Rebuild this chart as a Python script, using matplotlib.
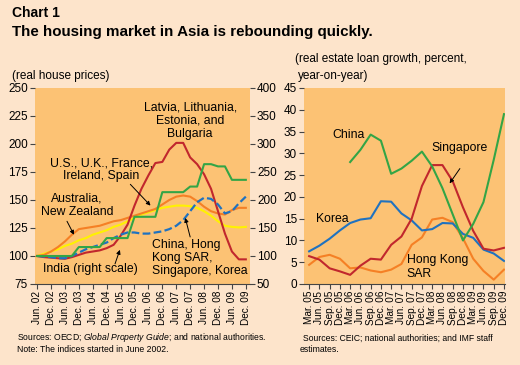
import numpy as np
import matplotlib
matplotlib.use('Agg')
import matplotlib.pyplot as plt

plt.rcParams['font.family'] = ['Liberation Sans', 'DejaVu Sans']
plt.rcParams['mathtext.fontset'] = 'custom'
plt.rcParams['mathtext.it'] = 'Liberation Sans:italic'
plt.rcParams['mathtext.rm'] = 'Liberation Sans'

# Left panel: real house prices, quarterly Jun. 02 - Dec. 09 (index, June 2002 = 100)
latvia_etc = [100, 99, 98.5, 98, 97.5, 99, 101, 103, 104, 105, 107, 110, 118, 128, 145, 160,
              172, 183, 184, 195, 201, 201, 188, 182, 173, 160, 140, 120, 104, 97, 97]
us_uk_etc = [100, 102, 104, 106, 109, 111, 114, 116, 119, 121, 123, 126, 128, 131, 134, 137,
             139, 141, 143, 144, 145, 145, 144.5, 143, 140, 136, 131, 127, 126, 125.5, 126]
australia_nz = [100, 101, 104, 108, 113, 119, 124, 125, 126, 127, 129, 131, 132, 134, 136, 138,
                140, 142, 146, 150, 153, 154, 153, 149, 144, 140, 138, 137, 141, 143, 143]
asia_group = [100, 99.5, 99, 98, 98, 100, 103, 106, 108, 110, 112, 116, 119, 121, 121, 120,
              120, 121, 122, 124, 127, 132, 140, 148, 152, 151, 146, 138, 140, 147, 153]
india = [100, 100, 100, 100, 100, 100, 116, 116, 116, 116, 132, 132, 132, 132, 170, 170,
         170, 170, 214, 214, 214, 214, 224, 224, 264, 264, 260, 260, 236, 236, 236]
left_labels = ['Jun. 02', 'Dec. 02', 'Jun. 03', 'Dec. 03', 'Jun. 04', 'Dec. 04', 'Jun. 05', 'Dec. 05',
               'Jun. 06', 'Dec. 06', 'Jun. 07', 'Dec. 07', 'Jun. 08', 'Dec. 08', 'Jun. 09', 'Dec. 09']

# Right panel: real estate loan growth, quarterly Mar. 05 - Dec. 09 (percent, y/y)
china = [np.nan, np.nan, np.nan, np.nan, 28.0, 30.8, 34.3, 32.9, 25.3, 26.5, 28.3, 30.4,
         27.0, 22.0, 16.0, 10.0, 13.8, 18.8, 28.5, 39.0]
korea = [7.5, 8.8, 10.4, 12.3, 14.0, 14.8, 15.1, 19.0, 18.9, 16.2, 14.6, 12.3, 12.6, 14.0,
         13.9, 11.5, 10.6, 7.9, 7.0, 5.3]
singapore = [6.4, 5.6, 3.6, 2.9, 2.1, 4.2, 5.8, 5.6, 9.0, 10.9, 15.0, 22.5, 27.3, 27.3, 23.6,
             17.6, 12.2, 8.1, 7.7, 8.3]
hong_kong = [4.4, 6.2, 6.7, 5.8, 3.6, 3.8, 3.1, 2.7, 3.3, 4.6, 9.0, 10.7, 14.8, 15.2, 14.2,
             10.5, 5.8, 3.0, 1.0, 3.3]
right_labels = ['Mar. 05', 'Jun. 05', 'Sep. 05', 'Dec. 05', 'Mar. 06', 'Jun. 06', 'Sep. 06', 'Dec. 06',
                'Mar. 07', 'Jun. 07', 'Sep. 07', 'Dec. 07', 'Mar. 08', 'Jun. 08', 'Sep. 08', 'Dec. 08',
                'Mar. 09', 'Jun. 09', 'Sep. 09', 'Dec. 09']

RED = '#C1272D'
GREEN = '#33A546'
ORANGE = '#F58025'
YELLOW = '#FFF200'
BLUE = '#1F72C0'
PAGE = '#FDE4CB'
PANEL = '#FCC274'
TICK = '#444444'

W, H = 520, 365
fig = plt.figure(figsize=(W / 100, H / 100), dpi=100, facecolor=PAGE)


def box(x0, y0, x1, y1):
    return [x0 / W, 1 - y1 / H, (x1 - x0) / W, (y1 - y0) / H]


def style_axes(ax):
    ax.set_facecolor(PANEL)
    for s in ['top', 'right', 'left']:
        ax.spines[s].set_visible(False)
    ax.spines['bottom'].set_color(TICK)
    ax.spines['bottom'].set_linewidth(0.8)
    ax.tick_params(axis='both', direction='out', color=TICK, length=3.5, width=0.8,
                   labelsize=8.5, pad=1.5)
    ax.tick_params(axis='x', labelsize=7.2, rotation=90, pad=1.5)


# ---------------- left panel ----------------
ax1 = fig.add_axes(box(35, 88, 250, 284))
style_axes(ax1)
q = np.arange(len(latvia_etc))
ax1.plot(q, us_uk_etc, color=YELLOW, lw=1.5)
ax1.plot(q, australia_nz, color=ORANGE, lw=1.5)
ax1.plot(q, latvia_etc, color=RED, lw=1.5)
ax1.plot(q, asia_group, color=BLUE, lw=1.6, ls=(0, (3.5, 1.5)))
ax1.set_xlim(-0.3, 30.6)
ax1.set_ylim(75, 250)
ax1.set_yticks(np.arange(75, 251, 25))
ax1.set_xticks(np.arange(0, 31, 2))
ax1.set_xticklabels(left_labels)

ax1r = ax1.twinx()
for s in ['top', 'right', 'left', 'bottom']:
    ax1r.spines[s].set_visible(False)
ax1r.plot(q, india, color=GREEN, lw=1.5)
ax1r.set_ylim(50, 400)
ax1r.set_yticks(np.arange(50, 401, 50))
ax1r.tick_params(axis='y', direction='out', color=TICK, length=3.5, width=0.8,
                 labelsize=8.5, pad=1.5)
ax1.set_zorder(ax1r.get_zorder() - 1)
ax1r.patch.set_visible(False)

arrow = dict(arrowstyle='-|>', color='black', lw=0.7, mutation_scale=6, shrinkA=0, shrinkB=0)
fs = 8.8
ls = 1.15
ax1.text(22, 221, 'Latvia, Lithuania,\nEstonia, and\nBulgaria', ha='center', va='center',
         fontsize=fs, linespacing=ls)
ax1.text(9.2, 177, 'U.S., U.K., France,\nIreland, Spain', ha='center', va='center',
         fontsize=fs, linespacing=ls)
ax1.annotate('', xy=(16.3, 145), xytext=(13.4, 164), arrowprops=arrow)
ax1.text(5.75, 145, 'Australia,\nNew Zealand', ha='center', va='center',
         fontsize=fs, linespacing=ls)
ax1.annotate('', xy=(5.3, 119), xytext=(4.3, 131), arrowprops=arrow)
ax1.text(7.6, 88.5, 'India (right scale)', ha='center', va='center', fontsize=fs)
ax1.annotate('', xy=(11.9, 105.5), xytext=(11.2, 93), arrowprops=arrow)
ax1.text(16.5, 98.3, 'China, Hong\nKong SAR,\nSingapore, Korea', ha='left', va='center',
         fontsize=fs, linespacing=ls)
ax1.annotate('', xy=(21.3, 134), xytext=(22.0, 117), arrowprops=arrow)

# ---------------- right panel ----------------
ax2 = fig.add_axes(box(304, 88, 505, 284))
style_axes(ax2)
m = np.arange(len(korea))
ax2.plot(m, hong_kong, color=ORANGE, lw=1.5)
ax2.plot(m, korea, color=BLUE, lw=1.5)
ax2.plot(m, singapore, color=RED, lw=1.5)
ax2.plot(m, china, color=GREEN, lw=1.5)
ax2.set_xlim(-0.5, 19.1)
ax2.set_ylim(0, 45)
ax2.set_yticks(np.arange(0, 46, 5))
ax2.set_xticks(m)
ax2.set_xticklabels(right_labels)

ax2.text(2.3, 34.2, 'China', ha='left', va='center', fontsize=fs)
ax2.text(0.65, 15.0, 'Korea', ha='left', va='center', fontsize=fs)
ax2.text(11.9, 31.2, 'Singapore', ha='left', va='center', fontsize=fs)
ax2.annotate('', xy=(13.7, 23.1), xytext=(14.7, 26.5), arrowprops=arrow)
ax2.text(9.5, 3.9, 'Hong Kong\nSAR', ha='left', va='center', fontsize=fs, linespacing=ls)

# ---------------- titles and notes ----------------
fig.text(12 / W, 1 - 13 / H, 'Chart 1', fontsize=10, fontweight='bold', va='center')
fig.text(12 / W, 1 - 32 / H, 'The housing market in Asia is rebounding quickly.',
         fontsize=10.9, fontweight='bold', va='center')
fig.text(12 / W, 1 - 76 / H, '(real house prices)', fontsize=8.5, va='center')
fig.text(295 / W, 1 - 59 / H, '(real estate loan growth, percent,', fontsize=8.5, va='center')
fig.text(298 / W, 1 - 76 / H, 'year-on-year)', fontsize=8.5, va='center')

fig.text(17 / W, 1 - 338 / H, 'Sources: OECD; $\\it{Global\\ Property\\ Guide}$; and national authorities.',
         fontsize=6.2, va='center')
fig.text(17 / W, 1 - 350 / H, 'Note: The indices started in June 2002.', fontsize=6.2, va='center')
fig.text(303 / W, 1 - 338 / H, 'Sources: CEIC; national authorities; and IMF staff',
         fontsize=6.2, va='center')
fig.text(300 / W, 1 - 350 / H, 'estimates.', fontsize=6.2, va='center')

fig.savefig('out.png', dpi=100, facecolor=PAGE)
